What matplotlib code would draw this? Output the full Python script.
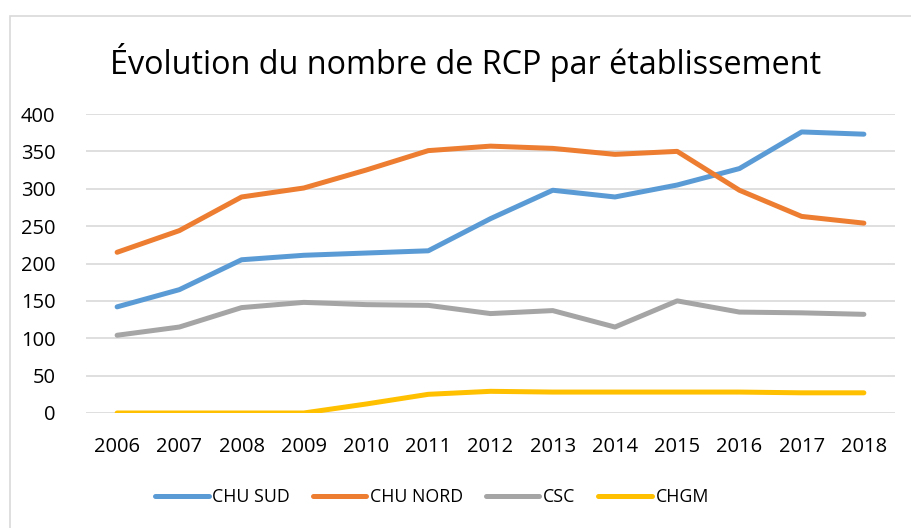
import matplotlib.pyplot as plt
from matplotlib.patches import Rectangle

annees = ['2006', '2007', '2008', '2009', '2010', '2011', '2012',
          '2013', '2014', '2015', '2016', '2017', '2018']
chu_sud = [142, 165, 205, 211, 214, 217, 260, 298, 289, 305, 327, 376, 373]
chu_nord = [215, 244, 289, 301, 325, 351, 357, 354, 346, 350, 298, 263, 254]
csc = [104, 115, 141, 148, 145, 144, 133, 137, 115, 150, 135, 134, 132]
chgm = [0, 0, 0, 0, 12, 25, 29, 28, 28, 28, 28, 27, 27]

series = [
    ('CHU SUD', chu_sud, '#5b9bd5'),
    ('CHU NORD', chu_nord, '#ed7d31'),
    ('CSC', csc, '#a5a5a5'),
    ('CHGM', chgm, '#ffc000'),
]

plt.rcParams['font.family'] = ['Open Sans', 'DejaVu Sans']

fig = plt.figure(figsize=(9.11, 5.28), dpi=100)
ax = fig.add_axes([86 / 911, 1 - 413 / 528, (895 - 86) / 911, (413 - 114) / 528])

# cadre du graphique
fig.patches.append(Rectangle((10 / 911, -0.05), 1.0, 1 - 16 / 528 + 0.05,
                             transform=fig.transFigure, fill=False,
                             edgecolor='#d9d9d9', linewidth=1.2))

x = list(range(len(annees)))
for nom, valeurs, couleur in series:
    ax.plot(x, valeurs, color=couleur, linewidth=3.6, label=nom,
            solid_capstyle='round', solid_joinstyle='round')

ax.set_xlim(-0.5, len(annees) - 0.5)
ax.set_ylim(0, 400)
ax.set_yticks(range(0, 401, 50))
ax.set_xticks(x)
ax.set_xticklabels(annees)
ax.grid(axis='y', color='#d9d9d9', linewidth=1.2)
ax.set_axisbelow(True)
for s in ax.spines.values():
    s.set_visible(False)
ax.tick_params(length=0, labelsize=14.5, colors='black')
ax.tick_params(axis='y', pad=22)
ax.tick_params(axis='x', pad=17)

fig.text(466 / 911, 1 - 62 / 528, 'Évolution du nombre de RCP par établissement',
         ha='center', va='center', fontsize=23.3)

fig.legend(loc='center', bbox_to_anchor=(432 / 911, 1 - 497 / 528), ncol=4,
           frameon=False, fontsize=12.8, handlelength=3.0, handletextpad=0.2,
           columnspacing=1.3)

fig.savefig('out.png', dpi=100)
